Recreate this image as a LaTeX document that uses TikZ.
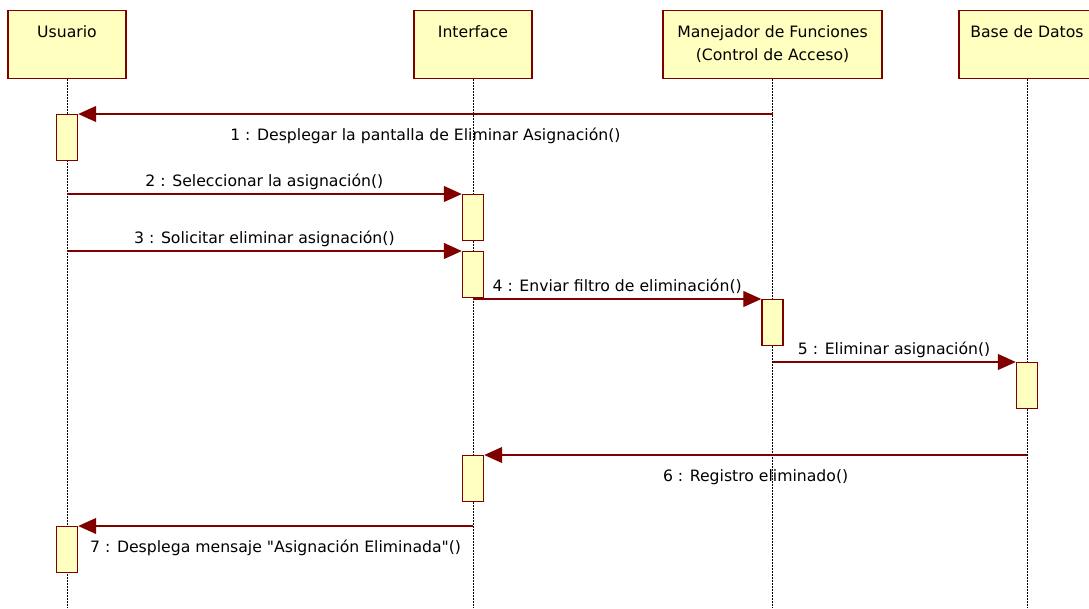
\documentclass[tikz,border=0pt]{standalone}
\usepackage{fontspec}
\setmainfont{DejaVu Sans}
\usepackage{tikz}
\usetikzlibrary{arrows.meta}
\definecolor{umlred}{RGB}{128,0,0}
\definecolor{umlfill}{RGB}{255,255,192}

\begin{document}
\begin{tikzpicture}[x=0.75pt, y=-0.75pt, font=\fontsize{11.75}{17.25}\selectfont,
  header/.style={draw=umlred, fill=umlfill, line width=1.1pt, anchor=north, inner sep=0pt,
    minimum height=51pt, text height=20.25pt, text depth=30.75pt, align=center},
  activation/.style={draw=umlred, fill=umlfill, line width=1.1pt, anchor=north, inner sep=0pt,
    minimum width=15.75pt, minimum height=34.5pt},
  lifeline/.style={line width=0.75pt, dash pattern=on 1.5pt off 0.75pt},
  msg/.style={draw=umlred, line width=0.9pt, -{Triangle[length=13.5pt, width=12pt]}},
  above label/.style={midway, anchor=base, yshift=6pt, inner sep=0pt},
  below label/.style={midway, anchor=base, yshift=-19.5pt, inner sep=0pt}]
\clip (0,0) rectangle (1089,608);
\fill[white] (0,0) rectangle (1089,608);
\coordinate (bot) at (0,608);

% Objects
\node[header, minimum width=88.5pt] (u) at (67,10) {Usuario};
\node[header, minimum width=88.5pt] (i) at (473,10) {Interface};
\node[header, minimum width=164.25pt, text height=37pt, text depth=14pt] (m) at (772.5,10)
  {Manejador de Funciones\\(Control de Acceso)};
\node[header, minimum width=102pt] (b) at (1027,10) {Base de Datos};

% Lifelines
\draw[lifeline] (u.south) -- (u.south |- bot);
\draw[lifeline] (i.south) -- (i.south |- bot);
\draw[lifeline] (m.south) -- (m.south |- bot);
\draw[lifeline] (b.south) -- (b.south |- bot);

% Activations
\node[activation] (u1) at (67,114) {};
\node[activation] (i1) at (473,194) {};
\node[activation] (i2) at (473,251) {};
\node[activation] (m1) at (772.5,299) {};
\node[activation] (b1) at (1027,362) {};
\node[activation] (i3) at (473,455) {};
\node[activation] (u2) at (67,526) {};

% Messages
\draw[msg] (m.south |- u1.north) -- (u1.north east)
  node[below label] (l1) {1 : Desplegar la pantalla de Eliminar Asignación()};
\draw[msg] (u.south |- i1.north) -- (i1.north west)
  node[above label] (l2) {2 : Seleccionar la asignación()};
\draw[msg] (u.south |- i2.north) -- (i2.north west)
  node[above label] (l3) {3 : Solicitar eliminar asignación()};
\draw[msg] (i.south |- m1.north) -- (m1.north west)
  node[above label] (l4) {4 : Enviar filtro de eliminación()};
\draw[msg] (m.south |- b1.north) -- (b1.north west)
  node[above label] (l5) {5 : Eliminar asignación()};
\draw[msg] (b.south |- i3.north) -- (i3.north east)
  node[below label] (l6) {6 : Registro eliminado()};
\draw[msg] (i.south |- u2.north) -- (u2.north east)
  node[below label] (l7) {7 : Desplega mensaje \textquotedbl Asignación Eliminada\textquotedbl()};
\end{tikzpicture}
\end{document}
